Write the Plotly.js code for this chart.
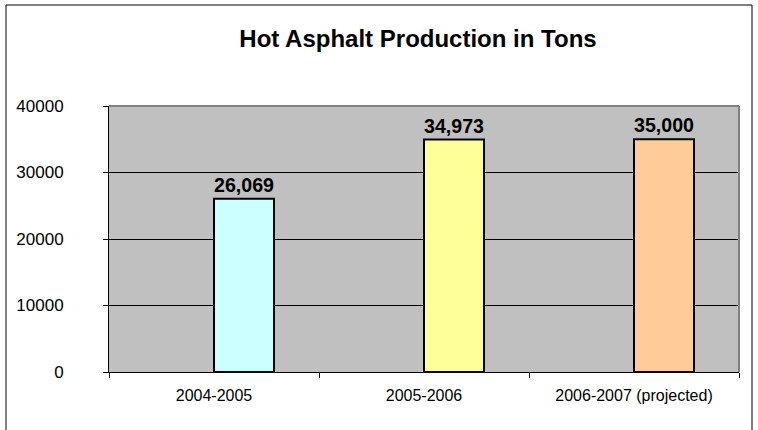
<!DOCTYPE html>
<html>
<head>
<meta charset="utf-8">
<script src="https://cdn.plot.ly/plotly-3.0.1.min.js"></script>
<style>html,body{margin:0;padding:0;background:#fff;}#chart{width:758px;height:430px;}</style>
</head>
<body>
<div id="chart"></div>
<script>
var categories = ["2004-2005", "2005-2006", "2006-2007 (projected)"];
var tons = [26069, 34973, 35000];
var barColors = ["#CCFFFF", "#FFFF99", "#FFCC99"];
var yTicks = [0, 10000, 20000, 30000, 40000];

var L = 109, R = 739, T = 106, B = 372, W = 758, H = 430;
function px2x(p){ return (p - L) / (R - L); }
function px2y(p){ return (B - p) / (B - T); }

var trace = {
  type: "bar",
  x: categories,
  y: tons,
  width: 0.2857,
  offset: 0,
  marker: { color: barColors, line: { color: "#000000", width: 2 } },
  texttemplate: "<b>%{y:,}</b>",
  textposition: "outside",
  textfont: { family: "Liberation Sans, Arial, sans-serif", size: 20, color: "#000000" },
  cliponaxis: false,
  hoverinfo: "skip"
};

var layout = {
  width: W, height: H,
  margin: { l: L, r: W - R, t: T, b: H - B, pad: 0 },
  paper_bgcolor: "#FFFFFF",
  plot_bgcolor: "#C0C0C0",
  showlegend: false,
  font: { family: "Liberation Sans, Arial, sans-serif", color: "#000000" },
  title: {
    text: "<b>Hot Asphalt Production in Tons</b>",
    font: { family: "Liberation Sans, Arial, sans-serif", size: 24, color: "#000000" },
    xref: "container", yref: "container",
    x: 418 / W, xanchor: "center",
    y: 1 - 39 / H, yanchor: "middle"
  },
  xaxis: {
    type: "category",
    range: [-0.5, 2.5],
    tickson: "boundaries",
    ticks: "outside", ticklen: 5, tickcolor: "#000000", tickwidth: 1,
    showline: true, linecolor: "#000000", linewidth: 1,
    showgrid: false, zeroline: false,
    tickfont: { size: 16, color: "#000000" },
    ticklabelstandoff: 9,
    fixedrange: true
  },
  yaxis: {
    range: [0, 40000],
    tickvals: yTicks,
    ticktext: yTicks.map(String),
    ticks: "outside", ticklen: 5, tickcolor: "#000000", tickwidth: 1,
    showline: true, linecolor: "#000000", linewidth: 1,
    showgrid: true, gridcolor: "#000000", gridwidth: 1,
    zeroline: false,
    tickfont: { size: 17, color: "#000000" },
    ticklabelstandoff: 36,
    fixedrange: true
  },
  shapes: [
    { type: "line", xref: "paper", yref: "paper", x0: 0, x1: 1, y0: 1, y1: 1,
      line: { color: "#808080", width: 2 } },
    { type: "line", xref: "paper", yref: "paper", x0: 1, x1: 1, y0: 0, y1: 1,
      line: { color: "#808080", width: 2 } },
    { type: "rect", xref: "paper", yref: "paper",
      x0: px2x(6), x1: px2x(752), y0: px2y(440), y1: px2y(5),
      line: { color: "#000000", width: 1 }, fillcolor: "rgba(0,0,0,0)" }
  ]
};

Plotly.newPlot("chart", [trace], layout, { staticPlot: true, displayModeBar: false });
</script>
</body>
</html>
